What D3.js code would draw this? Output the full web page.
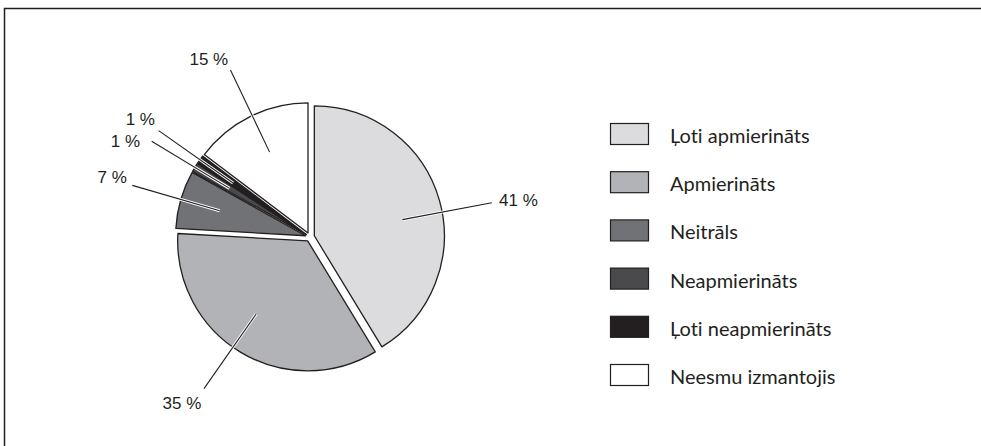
<!DOCTYPE html>
<html>
<head>
<meta charset="utf-8">
<script src="https://cdn.jsdelivr.net/npm/d3@7"></script>
<style>
  html, body { margin: 0; padding: 0; background: #fff; overflow: hidden; }
  svg { display: block; }
  .pct { font-family: "Liberation Sans", Arial, sans-serif; font-size: 17px; fill: #231f20; }
  .leg { font-family: Lato, "Open Sans", sans-serif; font-size: 20px; fill: #231f20; font-variant-ligatures: none; }
</style>
</head>
<body>
<div id="chart"></div>
<script>
// chart data
var categories = ["Ļoti apmierināts", "Apmierināts", "Neitrāls", "Neapmierināts", "Ļoti neapmierināts", "Neesmu izmantojis"];
var shares = [41.3, 34.6, 7.2, 1.1, 1.1, 14.7];
var colors = ["#dcdcde", "#b2b3b6", "#717275", "#4a4a4c", "#231f20", "#ffffff"];

// label layout tweaks (degrees / px)
var leaderShift = [5, 4, 0, 0, 0, 1];
var labelNudge = [[-2.6, 5], [3, 12], [4, 0], [-3, 11], [4.5, 0], [2, 4]];

var svgWidth = 981;
var svgHeight = 446;

var svg = d3.select("#chart")
    .append("svg")
    .attr("width", svgWidth)
    .attr("height", svgHeight);

// frame: only top and left edges are inside the picture
svg.append("path")
    .attr("d", `M4.5,${svgHeight + 2}V8.5H${svgWidth + 2}`)
    .attr("fill", "none")
    .attr("stroke", "#231f20")
    .attr("stroke-width", 1.5);

var cx = 310, cy = 237;
var radius = 130;
var explode = 4.5;

var pie = d3.pie().sort(null).value(d => d);
var arcs = pie(shares);

var arc = d3.arc().innerRadius(0).outerRadius(radius);

var pieGroup = svg.append("g")
    .attr("transform", `translate(${cx}, ${cy})`);

pieGroup.selectAll("path")
    .data(arcs)
    .enter()
    .append("path")
    .attr("d", arc)
    .attr("fill", (d, i) => colors[i])
    .attr("stroke", "#231f20")
    .attr("stroke-width", 1.3)
    .attr("stroke-linejoin", "round")
    .attr("transform", function (d) {
        var a = (d.startAngle + d.endAngle) / 2;
        return `translate(${Math.sin(a) * explode}, ${-Math.cos(a) * explode})`;
    });

// leader lines
function polar(a, r) {
    return [Math.sin(a) * r, -Math.cos(a) * r];
}

arcs.forEach(function (d, i) {
    var a = (d.startAngle + d.endAngle) / 2 + leaderShift[i] * Math.PI / 180;
    var p1 = polar(a, 94);
    var p2 = polar(a, 185);

    pieGroup.append("line")
        .attr("x1", p1[0]).attr("y1", p1[1])
        .attr("x2", p2[0]).attr("y2", p2[1])
        .attr("stroke", "#fff")
        .attr("stroke-width", 3);

    pieGroup.append("line")
        .attr("x1", p1[0]).attr("y1", p1[1])
        .attr("x2", p2[0]).attr("y2", p2[1])
        .attr("stroke", "#231f20")
        .attr("stroke-width", 1.1);

    var p3 = polar(a, 195);
    pieGroup.append("text")
        .classed("pct", true)
        .attr("x", p3[0] + labelNudge[i][0])
        .attr("y", p3[1] + labelNudge[i][1])
        .attr("text-anchor", Math.sin(a) > 0 ? "start" : "end")
        .text(Math.round(d.data) + " %");
});

// legend
var legend = svg.append("g")
    .attr("transform", "translate(610, 123)");

var rows = legend.selectAll("g")
    .data(categories)
    .enter()
    .append("g")
    .attr("transform", (d, i) => `translate(0, ${i * 48.2})`);

rows.append("rect")
    .attr("x", 0.5)
    .attr("y", 0.5)
    .attr("width", 38)
    .attr("height", 21)
    .attr("fill", (d, i) => colors[i])
    .attr("stroke", "#231f20")
    .attr("stroke-width", 1.2);

rows.append("text")
    .classed("leg", true)
    .attr("x", 60)
    .attr("y", 13)
    .attr("dy", "0.35em")
    .text(d => d);
</script>
</body>
</html>
